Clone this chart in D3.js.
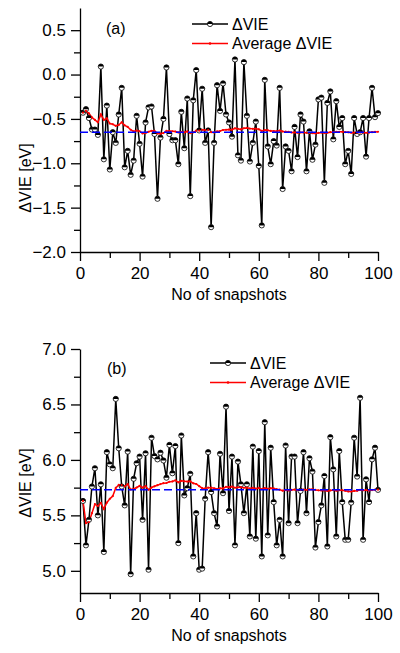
<!DOCTYPE html>
<html><head><meta charset="utf-8">
<script src="https://cdn.jsdelivr.net/npm/d3@7"></script>
<style>body{margin:0;background:#fff} svg{display:block} text{font-family:"Liberation Sans",Arial,sans-serif;fill:#000}</style>
</head><body><svg id="c" width="400" height="653"></svg>
<script>
// ---------- data ----------
const snapshots = d3.range(1, 101);
const vieA = [-0.43,-0.39,-0.49,-0.62,-0.62,-0.68,0.09,-0.955,-0.35,-1.07,
-0.65,-0.77,-0.45,-0.15,-1.045,-0.86,-1.13,-0.97,-0.465,-0.78,
-1.15,-0.54,-0.37,-0.36,-0.67,-1.40,-0.71,-0.50,0.08,-0.67,
-0.74,-0.74,-1.01,-0.42,-0.83,-0.27,-1.37,-0.29,0.05,-0.63,
-0.16,-0.77,-0.63,-1.72,-0.77,-0.12,-0.41,-0.10,-0.45,-0.54,
-0.70,0.17,-0.91,-0.97,0.14,-0.465,-0.98,-0.77,-0.53,-1.03,
-1.70,-0.06,-0.81,-1.01,-0.75,-0.80,-0.15,-1.29,-0.81,-0.86,
-1.09,-0.59,-0.93,-0.45,-0.53,-1.09,-0.64,-0.96,-0.79,-0.28,
-0.26,-1.22,-0.32,-0.19,-0.73,-0.30,-0.59,-0.49,-1.01,-0.86,
-1.12,-0.49,-0.67,-0.65,-0.49,-0.925,-0.49,-0.15,-0.48,-0.435];
const avgA = [-0.43,-0.41,-0.437,-0.483,-0.51,-0.538,-0.449,-0.512,-0.494,-0.552,
-0.56,-0.578,-0.568,-0.538,-0.572,-0.59,-0.622,-0.641,-0.632,-0.639,
-0.664,-0.658,-0.645,-0.634,-0.635,-0.664,-0.666,-0.66,-0.635,-0.636,
-0.639,-0.642,-0.653,-0.647,-0.652,-0.641,-0.661,-0.651,-0.633,-0.633,
-0.622,-0.625,-0.625,-0.65,-0.653,-0.641,-0.636,-0.625,-0.622,-0.62,
-0.621,-0.606,-0.612,-0.619,-0.605,-0.602,-0.609,-0.612,-0.61,-0.617,
-0.635,-0.626,-0.629,-0.635,-0.636,-0.639,-0.632,-0.641,-0.644,-0.647,
-0.653,-0.652,-0.656,-0.653,-0.652,-0.657,-0.657,-0.661,-0.663,-0.658,
-0.653,-0.66,-0.656,-0.65,-0.651,-0.647,-0.646,-0.645,-0.649,-0.651,
-0.656,-0.654,-0.655,-0.655,-0.653,-0.656,-0.654,-0.649,-0.647,-0.645];
const meanA = -0.65;

const vieB = [5.63,5.23,5.46,5.76,5.925,5.50,5.78,5.17,6.07,5.96,
5.925,6.55,6.105,5.76,5.59,6.075,4.97,5.83,5.97,6.03,
5.46,6.06,5.01,6.20,6.035,6.005,6.065,5.995,5.84,6.135,
5.88,6.125,5.25,6.22,5.68,5.745,5.875,5.13,5.52,5.01,
5.02,5.65,6.07,5.71,5.52,5.40,6.055,5.70,6.48,5.54,
6.03,5.23,5.985,5.78,5.52,5.78,5.31,6.12,5.29,6.08,
5.13,6.34,5.32,6.11,5.62,5.23,5.46,5.13,6.13,5.43,
6.03,6.03,5.43,5.72,6.07,5.52,6.015,5.895,5.21,5.44,
5.59,5.855,5.22,6.205,5.915,5.31,6.08,5.62,5.28,5.28,
5.615,6.20,5.85,6.56,5.28,5.825,5.62,6.005,6.11,5.73];
const avgB = [5.63,5.43,5.44,5.52,5.601,5.584,5.612,5.557,5.614,5.649,
5.674,5.747,5.774,5.773,5.761,5.781,5.733,5.738,5.751,5.765,
5.75,5.764,5.731,5.751,5.762,5.772,5.782,5.79,5.792,5.803,
5.806,5.816,5.798,5.811,5.807,5.805,5.807,5.789,5.783,5.763,
5.745,5.743,5.75,5.75,5.744,5.737,5.744,5.743,5.758,5.754,
5.759,5.749,5.753,5.754,5.749,5.75,5.742,5.749,5.741,5.747,
5.737,5.746,5.74,5.745,5.743,5.736,5.732,5.723,5.729,5.724,
5.729,5.733,5.729,5.729,5.733,5.73,5.734,5.736,5.729,5.726,
5.724,5.726,5.72,5.725,5.728,5.723,5.727,5.726,5.721,5.716,
5.715,5.72,5.721,5.73,5.726,5.727,5.725,5.728,5.732,5.732];
const meanB = 5.73;

const xTicks = [0, 20, 40, 60, 80, 100];
const xMinor = [10, 30, 50, 70, 90];
const yTicksA = [-2.0, -1.5, -1.0, -0.5, 0.0, 0.5];
const yMinorA = [-1.75, -1.25, -0.75, -0.25, 0.25];
const yTicksB = [5.0, 5.5, 6.0, 6.5, 7.0];
const yMinorB = [5.25, 5.75, 6.25, 6.75];
const seriesName = "\u0394VIE";
const avgName = "Average \u0394VIE";
const yTitle = "\u0394VIE [eV]";
const xTitle = "No of snapshots";

// ---------- drawing ----------
const svg = d3.select("#c");
const X0 = 80, X1 = 378;
const x = d3.scaleLinear().domain([0, 100]).range([X0, X1]);

function halfMarker(g, cx, cy, r) {
  g.append("circle").attr("cx", cx).attr("cy", cy).attr("r", r)
    .attr("fill", "#fff").attr("stroke", "#000").attr("stroke-width", 0.8);
  g.append("path").attr("transform", `translate(${cx},${cy})`)
    .attr("d", `M${-r},0A${r},${r} 0 0 1 ${r},0Z`).attr("fill", "#000");
}

function panel(o) {
  const g = svg.append("g");
  const y = d3.scaleLinear().domain(o.domain).range([o.yb, o.yt]);

  // axes
  const ax = g.append("g").attr("transform", `translate(0,${o.yb})`)
    .call(d3.axisBottom(x).tickValues(xTicks).tickSize(9).tickSizeOuter(0).tickPadding(3).tickFormat(d3.format("d")));
  g.append("g").attr("transform", `translate(0,${o.yb})`)
    .call(d3.axisBottom(x).tickValues(xMinor).tickSize(6).tickSizeOuter(0).tickFormat(""))
    .select(".domain").remove();
  const ay = g.append("g").attr("transform", `translate(${X0},0)`)
    .call(d3.axisLeft(y).tickValues(o.ticks).tickSize(9).tickSizeOuter(0).tickPadding(5).tickFormat(d3.format(".1f")));
  g.append("g").attr("transform", `translate(${X0},0)`)
    .call(d3.axisLeft(y).tickValues(o.minor).tickSize(6).tickSizeOuter(0).tickFormat(""))
    .select(".domain").remove();
  g.selectAll(".domain, .tick line").attr("stroke", "#000").attr("stroke-width", 1.3);
  g.selectAll(".tick text").attr("font-size", 17).attr("font-family", '"Liberation Sans",Arial,sans-serif').attr("fill", "#000");
  ax.selectAll(".tick text").attr("dy", "0.9em");

  // data line
  const line = d3.line().x((d, i) => x(snapshots[i])).y(d => y(d));
  g.append("path").datum(o.vie).attr("d", line).attr("fill", "none")
    .attr("stroke", "#000").attr("stroke-width", 1.5).attr("stroke-linejoin", "round");
  // average line
  g.append("path").datum(o.avg).attr("d", line).attr("fill", "none")
    .attr("stroke", "#ff0000").attr("stroke-width", 1.5);
  // markers
  const mg = g.append("g");
  o.vie.forEach((d, i) => halfMarker(mg, x(snapshots[i]), y(d), 2.6));
  g.append("g").selectAll("circle").data(o.avg).join("circle")
    .attr("cx", (d, i) => x(snapshots[i])).attr("cy", d => y(d)).attr("r", 1.1).attr("fill", "#ff0000");
  // mean dashed line
  g.append("line").attr("x1", X0).attr("x2", X1).attr("y1", y(o.mean)).attr("y2", y(o.mean))
    .attr("stroke", "#0000ff").attr("stroke-width", 1.5).attr("stroke-dasharray", "8,4");

  // titles
  g.append("text").attr("x", (X0 + X1) / 2).attr("y", o.yb + 48).attr("text-anchor", "middle")
    .attr("font-size", 16).text(xTitle);
  g.append("text").attr("transform", `translate(31,${o.ytc}) rotate(-90)`).attr("text-anchor", "middle")
    .attr("font-size", 16).text(yTitle);
  g.append("text").attr("x", o.lab[0]).attr("y", o.lab[1]).attr("font-size", 16).text(o.label);

  // legend
  const L = o.leg;
  g.append("line").attr("x1", L[0]).attr("x2", L[0] + 36).attr("y1", L[1]).attr("y2", L[1])
    .attr("stroke", "#000").attr("stroke-width", 1.5);
  halfMarker(g, L[0] + 18, L[1], 2.6);
  g.append("text").attr("x", L[0] + 40).attr("y", L[1] + 5.5).attr("font-size", 16).text(seriesName);
  g.append("line").attr("x1", L[0]).attr("x2", L[0] + 36).attr("y1", L[1] + 19.5).attr("y2", L[1] + 19.5)
    .attr("stroke", "#ff0000").attr("stroke-width", 1.5);
  g.append("circle").attr("cx", L[0] + 18).attr("cy", L[1] + 19.5).attr("r", 1.3).attr("fill", "#ff0000");
  g.append("text").attr("x", L[0] + 40).attr("y", L[1] + 25).attr("font-size", 16).text(avgName);
}

panel({domain: [-2.0, 0.75], yt: 8, yb: 252, ticks: yTicksA, minor: yMinorA,
  vie: vieA, avg: avgA, mean: meanA, ytc: 178, lab: [106, 34], label: "(a)", leg: [192, 24]});
panel({domain: [4.8, 7.0], yt: 349, yb: 593, ticks: yTicksB, minor: yMinorB,
  vie: vieB, avg: avgB, mean: meanB, ytc: 483, lab: [107, 374], label: "(b)", leg: [210, 363]});
</script></body></html>
